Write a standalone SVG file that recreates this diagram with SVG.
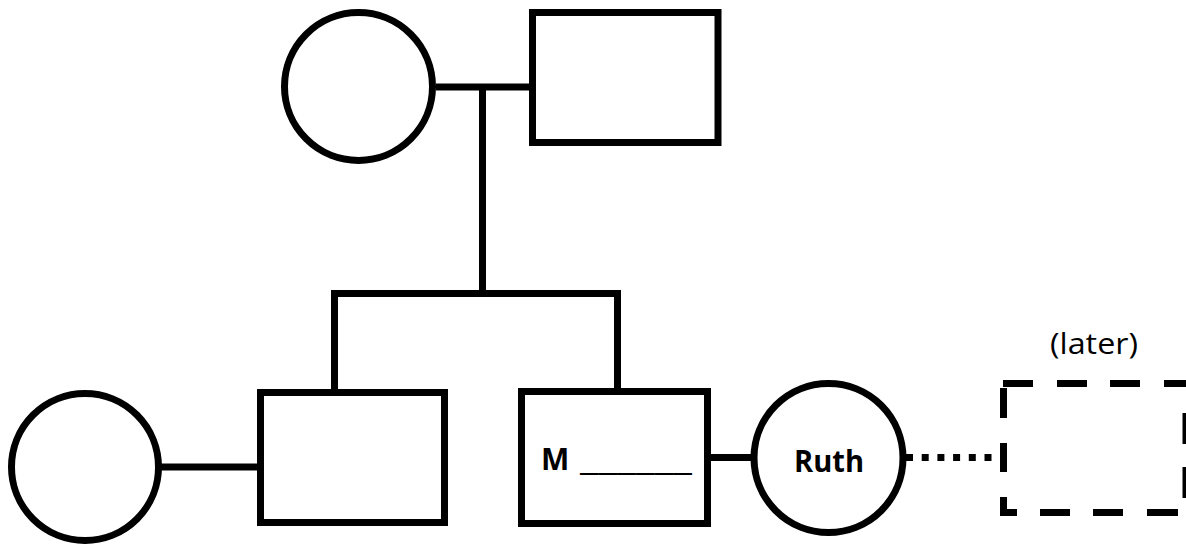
<svg xmlns="http://www.w3.org/2000/svg" width="1186" height="544" viewBox="0 0 1186 544">
<style>
.node{fill:#fff;stroke:#000;stroke-width:7}
.ln{stroke:#000;stroke-width:7;fill:none}
.dash{stroke:#000;stroke-width:7;fill:none}
.lbl{font-family:"Open Sans","Liberation Sans",sans-serif;font-weight:bold;font-size:30px;fill:#000}
.note{font-family:"Open Sans","Liberation Sans",sans-serif;font-size:29px;fill:#000}
</style>
<rect width="1186" height="544" fill="#fff"/>
<g id="connectors">
<line class="ln" x1="436" y1="87" x2="530" y2="87"/>
<line class="ln" x1="482.5" y1="87" x2="482.5" y2="294"/>
<polyline class="ln" points="334.5,390 334.5,293.5 617.5,293.5 617.5,390"/>
<line class="ln" x1="160" y1="467" x2="260" y2="467"/>
<line class="ln" x1="709" y1="457.5" x2="752" y2="457.5"/>
<line class="ln" x1="906" y1="457.5" x2="1000" y2="457.5" stroke-dasharray="7 8.7"/>
</g>
<g id="grandmother"><circle class="node" cx="358.5" cy="86.5" r="74"/></g>
<g id="grandfather"><rect class="node" x="532.5" y="12.5" width="185.5" height="130"/></g>
<g id="aunt-in-law"><circle class="node" cx="85" cy="467" r="73.5"/></g>
<g id="uncle"><rect class="node" x="260.5" y="392.5" width="184" height="130"/></g>
<g id="m"><rect class="node" x="521.5" y="391.5" width="186" height="132"/>
<text class="lbl" x="541" y="470">M <tspan x="580" textLength="112" lengthAdjust="spacingAndGlyphs">______</tspan></text></g>
<g id="ruth"><circle class="node" cx="828.5" cy="458" r="74.5"/>
<text class="lbl" x="829" y="472" text-anchor="middle" textLength="70" lengthAdjust="spacingAndGlyphs">Ruth</text></g>
<g id="later">
<text class="note" x="1094" y="354" text-anchor="middle" textLength="88" lengthAdjust="spacingAndGlyphs">(later)</text>
<line class="dash" x1="1003" y1="383.5" x2="1186" y2="383.5" stroke-dasharray="30 24 30 23 30 24 22"/>
<line class="dash" x1="1003.5" y1="388" x2="1003.5" y2="516" stroke-dasharray="30 25 29 25 19"/>
<line class="dash" x1="1000" y1="512.5" x2="1186" y2="512.5" stroke-dasharray="17 23 30 23 30 24 31"/>
<line class="dash" x1="1186" y1="380" x2="1186" y2="516" stroke-dasharray="0 33 31 23 31 100"/>
</g>
</svg>
